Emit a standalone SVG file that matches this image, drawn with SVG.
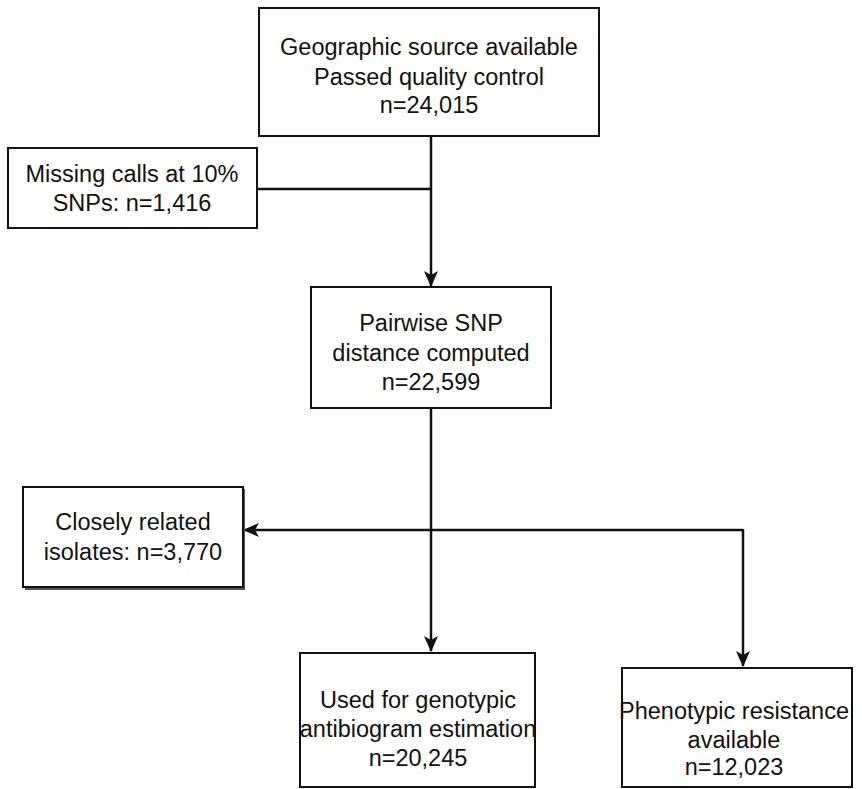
<svg xmlns="http://www.w3.org/2000/svg" width="862" height="789" viewBox="0 0 862 789">
<defs>
<style>
.box{fill:#fff;stroke:#111;stroke-width:2}
.sh{fill:#555}
text{font-family:"Liberation Sans",Arial,sans-serif;font-size:23.5px;fill:#111;text-anchor:middle}
.ln{fill:none;stroke:#111;stroke-width:2.5}
</style>
<marker id="ah" viewBox="0 0 16 16" refX="15" refY="8" markerWidth="16" markerHeight="16" markerUnits="userSpaceOnUse" orient="auto">
<path d="M0,1 L16,8 L0,15 L4,8 z" fill="#111"/>
</marker>
</defs>
<g id="connectors">
<line class="ln" x1="431" y1="136" x2="431" y2="286" marker-end="url(#ah)"/>
<line class="ln" x1="257" y1="189" x2="431" y2="189"/>
<line class="ln" x1="431" y1="408" x2="431" y2="651" marker-end="url(#ah)"/>
<polyline class="ln" points="743,530 244,530" marker-end="url(#ah)"/>
<line class="ln" x1="743" y1="529" x2="743" y2="666" marker-end="url(#ah)"/>
</g>
<g id="n1">
<rect class="box" x="259" y="8" width="340" height="128"/>
<text x="429" y="55">Geographic source available</text>
<text x="429" y="85">Passed quality control</text>
<text x="429" y="113">n=24,015</text>
</g>
<g id="n2">
<rect class="box" x="8" y="148" width="249" height="80"/>
<text x="132" y="182">Missing calls at 10%</text>
<text x="132" y="211">SNPs: n=1,416</text>
</g>
<g id="n3">
<rect class="box" x="311" y="287" width="240" height="121"/>
<text x="431" y="331">Pairwise SNP</text>
<text x="431" y="361">distance computed</text>
<text x="431" y="390">n=22,599</text>
</g>
<g id="n4">
<rect class="sh" x="25" y="489" width="220" height="101"/>
<rect class="box" x="23" y="487" width="220" height="100"/>
<text x="133" y="530">Closely related</text>
<text x="133" y="560">isolates: n=3,770</text>
</g>
<g id="n5">
<rect class="box" x="300" y="653" width="235" height="134"/>
<text x="418" y="708">Used for genotypic</text>
<text x="418" y="737">antibiogram estimation</text>
<text x="418" y="766">n=20,245</text>
</g>
<g id="n6">
<rect class="box" x="622" y="668" width="230" height="119"/>
<text x="734" y="719">Phenotypic resistance</text>
<text x="734" y="748">available</text>
<text x="734" y="775">n=12,023</text>
</g>
</svg>
